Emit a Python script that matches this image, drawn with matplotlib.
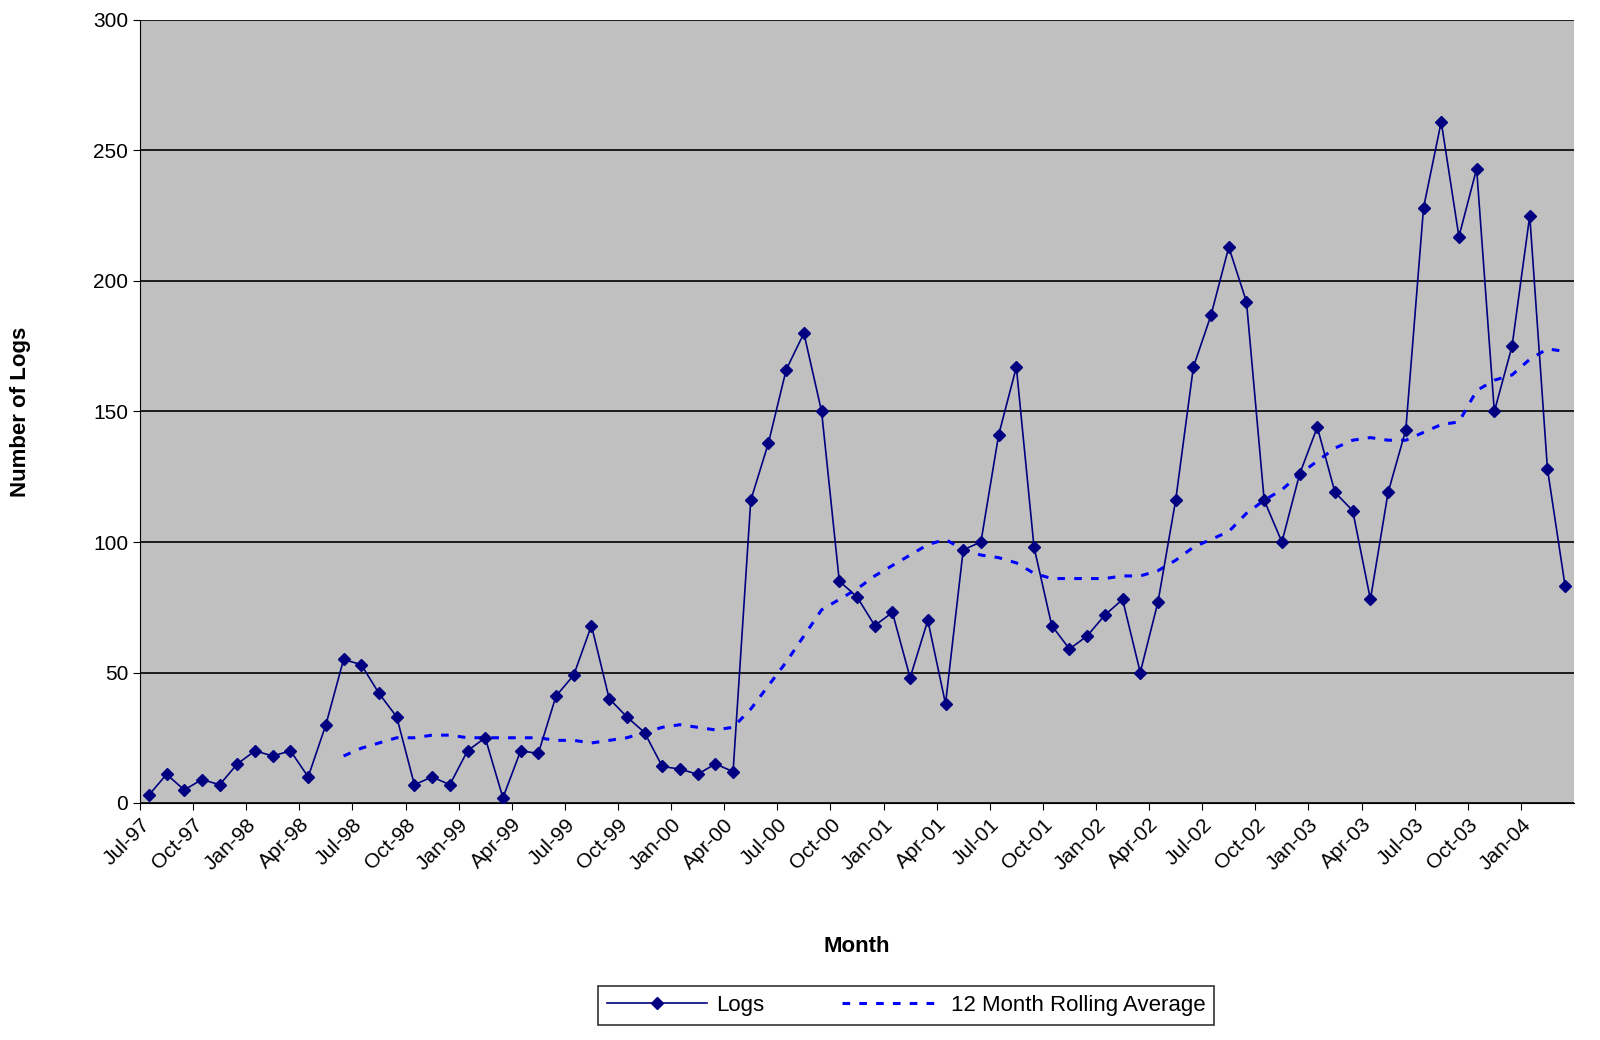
import matplotlib
matplotlib.use("Agg")
import matplotlib.pyplot as plt
import numpy as np

plt.rcParams['font.family'] = ['Liberation Sans', 'DejaVu Sans']

# monthly counts, Jul-97 .. Mar-04
logs = [3, 11, 5, 9, 7, 15, 20, 18, 20, 10, 30, 55, 53, 42, 33, 7, 10, 7, 20, 25,
        2, 20, 19, 41, 49, 68, 40, 33, 27, 14, 13, 11, 15, 12, 116, 138, 166, 180, 150, 85,
        79, 68, 73, 48, 70, 38, 97, 100, 141, 167, 98, 68, 59, 64, 72, 78, 50, 77, 116, 167,
        187, 213, 192, 116, 100, 126, 144, 119, 112, 78, 119, 143, 228, 261, 217, 243, 150, 175, 225, 128,
        83]
# 12 month rolling average, starting Jun-98 (index 11)
rolling = [18, 21, 23, 25, 25, 26, 26, 25, 25, 25, 25, 25, 24, 24, 23, 24, 25, 27, 29, 30,
           29, 28, 29, 36, 45, 54, 64, 74, 78, 82, 87, 91, 95, 99, 101, 97, 95, 94, 92, 88,
           86, 86, 86, 86, 87, 87, 89, 93, 98, 101, 104, 111, 116, 120, 126, 131, 136, 139, 140, 139,
           139, 142, 145, 146, 158, 162, 164, 170, 174, 173]
months = ['Jul', 'Oct', 'Jan', 'Apr']
tick_labels = ['%s-%02d' % (months[k % 4], (97 + (k + 2) // 4) % 100) for k in range(27)]

fig = plt.figure(figsize=(16, 10.4), dpi=100)
ax = fig.add_axes([140/1600, 1 - 803/1040, 1434/1600, 783/1040])
ax.set_facecolor('#C0C0C0')

x = np.arange(len(logs)) + 0.5
xr = np.arange(11, 11 + len(rolling)) + 0.5
ax.plot(x, logs, color='#000080', lw=1.2, marker='D', ms=6, label='Logs', zorder=3)
ax.plot(xr, rolling, color='#0000FF', lw=2.2, ls=(0, (2.5, 3)), label='12 Month Rolling Average', zorder=2)

ax.set_xlim(0, 81)
ax.set_ylim(0, 300)
ax.set_yticks(range(0, 301, 50))
ax.yaxis.grid(True, color='black', lw=1.2)
ax.set_axisbelow(True)
ax.set_xticks(range(0, 79, 3))
ax.set_xticklabels(tick_labels, rotation=45, ha='right', rotation_mode='anchor', fontsize=15)
ax.tick_params(axis='y', labelsize=15, length=5)
ax.tick_params(axis='x', length=5)
for s in ['top', 'right']:
    ax.spines[s].set_visible(False)
ax.set_xlabel('Month', fontsize=16, fontweight='bold', labelpad=45)
ax.set_ylabel('Number of Logs', fontsize=16, fontweight='bold', labelpad=45)

leg = fig.legend(loc='upper center', bbox_to_anchor=(0.5665, 1 - 975/1040), ncol=2, fontsize=16,
                 frameon=True, fancybox=False, edgecolor='black', handlelength=4.5,
                 columnspacing=3.5, borderpad=0.4, handletextpad=0.4)
leg.get_frame().set_linewidth(1.2)

fig.savefig('out.png', dpi=100)
